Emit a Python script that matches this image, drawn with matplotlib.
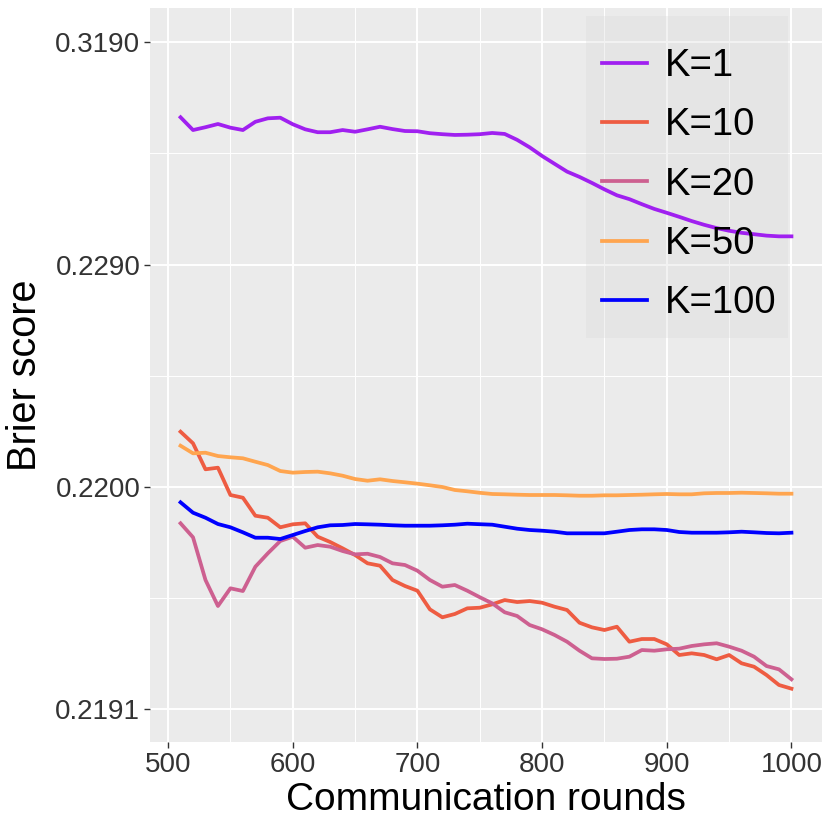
import numpy as np
import matplotlib
matplotlib.use("Agg")
import matplotlib.pyplot as plt
from matplotlib.patches import Rectangle

plt.rcParams['font.family'] = ['Liberation Sans', 'DejaVu Sans']

# communication rounds
rounds = np.arange(510, 1001, 10)

# Brier scores
k1 = [0.2650, 0.2593, 0.2605, 0.2619, 0.2603, 0.2593, 0.2629, 0.2645, 0.2648, 0.2618,
      0.2596, 0.2584, 0.2584, 0.2593, 0.2586, 0.2596, 0.2607, 0.2597, 0.2589, 0.2588,
      0.2580, 0.2576, 0.2573, 0.2574, 0.2576, 0.2581, 0.2577, 0.2554, 0.2527, 0.2498,
      0.2474, 0.2452, 0.2438, 0.2423, 0.2408, 0.2395, 0.2387, 0.2377, 0.2368, 0.2361,
      0.2354, 0.2347, 0.2341, 0.2336, 0.2332, 0.2329, 0.2327, 0.2325, 0.2324, 0.2324]

k10 = [0.2207715, 0.2205708, 0.2202000, 0.2202202, 0.2199196, 0.2198941, 0.2197420, 0.2197267, 0.2196581, 0.2196788,
       0.2196859, 0.2195970, 0.2195651, 0.2195293, 0.2194938, 0.2194532, 0.2194421, 0.2193813, 0.2193583, 0.2193412,
       0.2192813, 0.2192591, 0.2192681, 0.2192843, 0.2192861, 0.2192963, 0.2193098, 0.2193034, 0.2193066, 0.2193013,
       0.2192891, 0.2192794, 0.2192449, 0.2192335, 0.2192271, 0.2192350, 0.2192012, 0.2192069, 0.2192069, 0.2191958,
       0.2191753, 0.2191784, 0.2191753, 0.2191677, 0.2191753, 0.2191609, 0.2191553, 0.2191425, 0.2191285, 0.2191237]

k20 = [0.2196859, 0.2195933, 0.2193813, 0.2192912, 0.2193498, 0.2193401, 0.2194375, 0.2195026, 0.2195710, 0.2195970,
       0.2195326, 0.2195477, 0.2195382, 0.2195147, 0.2194973, 0.2195004, 0.2194838, 0.2194532, 0.2194453, 0.2194198,
       0.2193813, 0.2193557, 0.2193620, 0.2193412, 0.2193190, 0.2192994, 0.2192729, 0.2192626, 0.2192392, 0.2192288,
       0.2192157, 0.2192012, 0.2191833, 0.2191694, 0.2191682, 0.2191687, 0.2191723, 0.2191846, 0.2191833, 0.2191860,
       0.2191872, 0.2191925, 0.2191958, 0.2191980, 0.2191911, 0.2191833, 0.2191723, 0.2191564, 0.2191511, 0.2191363]

k50 = [0.2205320, 0.2204160, 0.2204250, 0.2203770, 0.2203590, 0.2203450, 0.2202980, 0.2202540, 0.2201790, 0.2201590,
       0.2201670, 0.2201710, 0.2201510, 0.2201230, 0.2200850, 0.2200660, 0.2200820, 0.2200630, 0.2200490, 0.2200340,
       0.2200170, 0.2199990, 0.2199685, 0.2199555, 0.2199408, 0.2199292, 0.2199262, 0.2199224, 0.2199196, 0.2199196,
       0.2199196, 0.2199167, 0.2199129, 0.2199129, 0.2199167, 0.2199167, 0.2199196, 0.2199224, 0.2199262, 0.2199292,
       0.2199262, 0.2199262, 0.2199359, 0.2199389, 0.2199389, 0.2199417, 0.2199389, 0.2199359, 0.2199320, 0.2199320]

k100 = [0.2198523, 0.2197655, 0.2197267, 0.2196809, 0.2196581, 0.2196248, 0.2195908, 0.2195908, 0.2195829, 0.2196075,
        0.2196332, 0.2196581, 0.2196719, 0.2196740, 0.2196809, 0.2196788, 0.2196761, 0.2196719, 0.2196691, 0.2196691,
        0.2196691, 0.2196719, 0.2196761, 0.2196831, 0.2196795, 0.2196761, 0.2196622, 0.2196486, 0.2196399, 0.2196353,
        0.2196288, 0.2196184, 0.2196184, 0.2196184, 0.2196184, 0.2196288, 0.2196399, 0.2196446, 0.2196446, 0.2196399,
        0.2196268, 0.2196223, 0.2196223, 0.2196223, 0.2196248, 0.2196288, 0.2196248, 0.2196203, 0.2196184, 0.2196223]

labels = ["K=1", "K=10", "K=20", "K=50", "K=100"]
colors = ["#A020F0", "#EE5C42", "#CD6090", "#FFA54F", "#0000FF"]
series = [k1, k10, k20, k50, k100]

y_ticks = [0.2191, 0.2200, 0.2290, 0.3190]
y_ticklabels = ["0.2191", "0.2200", "0.2290", "0.3190"]
x_ticks = [500, 600, 700, 800, 900, 1000]

# y axis is log10(score - 0.219)
OFFSET = 0.219
def fwd(y):
    return np.log10(np.clip(np.asarray(y) - OFFSET, 1e-12, None))
def inv(t):
    return 10 ** np.asarray(t) + OFFSET

fig = plt.figure(figsize=(8.3, 8.3), dpi=100)
ax = fig.add_axes([150/830, 1 - 742/830, 672/830, 734/830])
ax.set_facecolor("#EBEBEB")
ax.set_yscale("function", functions=(fwd, inv))

for vals, lab, col in zip(series, labels, colors):
    ax.plot(rounds, vals, color=col, lw=2.7, label=lab, zorder=2)

ax.set_xlim(485.5, 1024.5)
ax.set_ylim(inv(-4.1475), inv(-0.8457))

ax.set_yticks(y_ticks)
ax.set_yticklabels(y_ticklabels)
ax.set_yticks(inv([-3.5, -2.5, -1.5]), minor=True)
ax.set_xticks(x_ticks)
ax.set_xticks([550, 650, 750, 850, 950], minor=True)

ax.grid(which="major", color="white", lw=1.4)
ax.grid(which="minor", color="white", lw=0.7)
ax.set_axisbelow(True)
for s in ax.spines.values():
    s.set_visible(False)

ax.tick_params(which="major", length=4, width=1, color="#333333",
               labelsize=20, labelcolor="#333333", pad=3)
ax.tick_params(which="minor", length=0)

ax.set_xlabel("Communication rounds", fontsize=28, labelpad=3)
ax.set_ylabel("Brier score", fontsize=28.5, labelpad=8)

# translucent legend background, drawn below the lines
ax.add_patch(Rectangle((0.6488, 0.5504), 0.3006, 0.4387, transform=ax.transAxes,
                       facecolor=(0.85, 0.85, 0.85), alpha=0.3, edgecolor="none", zorder=1))

leg = ax.legend(loc="upper left", bbox_to_anchor=(0.6725, 0.9455), fontsize=27.5,
                frameon=False, handlelength=1.18, handletextpad=0.47,
                labelspacing=0.61, borderpad=0, borderaxespad=0)

fig.savefig("out.png", dpi=100)
